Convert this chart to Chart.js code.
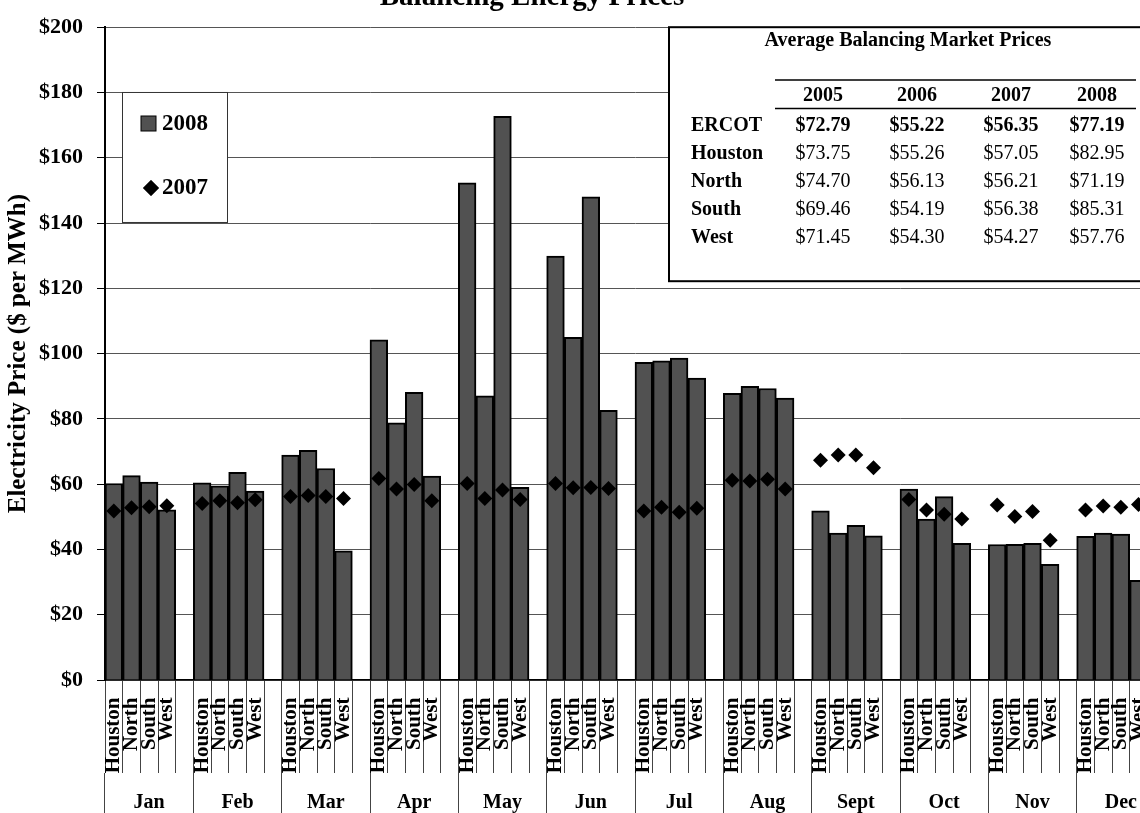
<!DOCTYPE html>
<html>
<head>
<meta charset="utf-8">
<title>Balancing Energy Prices</title>
<script src="https://cdn.jsdelivr.net/npm/chart.js@4.4.1/dist/chart.umd.min.js"></script>
<style>
	html, body { margin: 0; padding: 0; background: #fff; overflow: hidden; }
	#price_chart { display: block; }
</style>
</head>
<body>
<canvas id="price_chart" width="1180" height="813"></canvas>
<script>
var months = ['Jan', 'Feb', 'Mar', 'Apr', 'May', 'Jun', 'Jul', 'Aug', 'Sept', 'Oct', 'Nov', 'Dec'];
var regions = ['Houston', 'North', 'South', 'West'];

//2008 monthly prices ($ per MWh)
var houston_2008 = [60.2, 60.4, 68.9, 104.2, 152.3, 129.9, 97.3, 87.8, 51.8, 58.5, 41.5, 44.0];
var north_2008 = [62.6, 59.5, 70.4, 78.8, 87.1, 105.0, 97.8, 90.0, 45.0, 49.3, 41.6, 45.0];
var south_2008 = [60.6, 63.6, 64.8, 88.1, 172.7, 148.0, 98.6, 89.3, 47.4, 56.2, 41.9, 44.7];
var west_2008 = [52.1, 57.9, 39.6, 62.5, 59.0, 82.6, 92.5, 86.4, 44.2, 41.9, 35.4, 30.5];

//2007 monthly prices ($ per MWh)
var houston_2007 = [51.8, 54.1, 56.2, 61.7, 60.2, 60.2, 51.8, 61.2, 67.3, 55.3, 53.6, 52.1];
var north_2007 = [52.8, 54.9, 56.5, 58.5, 55.6, 58.9, 52.9, 61.0, 68.9, 52.1, 50.1, 53.3];
var south_2007 = [53.1, 54.3, 56.2, 59.9, 58.2, 59.0, 51.4, 61.5, 68.9, 50.8, 51.6, 52.9];
var west_2007 = [53.4, 55.2, 55.6, 54.9, 55.3, 58.7, 52.6, 58.5, 65.0, 49.3, 42.8, 53.8];

var y_ticks = [0, 20, 40, 60, 80, 100, 120, 140, 160, 180, 200];

//Average balancing market prices table
var table_title = 'Average Balancing Market Prices';
var table_years = ['2005', '2006', '2007', '2008'];
var table_rows = ['ERCOT', 'Houston', 'North', 'South', 'West'];
var ercot_avg = [72.79, 55.22, 56.35, 77.19];
var houston_avg = [73.75, 55.26, 57.05, 82.95];
var north_avg = [74.70, 56.13, 56.21, 71.19];
var south_avg = [69.46, 54.19, 56.38, 85.31];
var west_avg = [71.45, 54.30, 54.27, 57.76];

var serif_font = '"Liberation Serif", "Times New Roman", serif';
var bar_fill = '#515151';

//one slot per region and an empty slot after each month
function build_slots(series_list)
{
	var out = [];
	for (var m = 0; m < months.length; m++)
	{
		for (var r = 0; r < series_list.length; r++)
			out.push(series_list[r][m]);
		out.push(null);
	}
	return out;
}

var slot_labels = [];
for (var m = 0; m < months.length; m++)
{
	for (var r = 0; r < regions.length; r++)
		slot_labels.push(regions[r]);
	slot_labels.push('');
}

var data_2008 = build_slots([houston_2008, north_2008, south_2008, west_2008]);
var data_2007 = build_slots([houston_2007, north_2007, south_2007, west_2007]);

//Legend box + table + clipped title
var extras_plugin = {
	id: 'extras',
	afterDraw: function(chart)
	{
		var ctx = chart.ctx;
		ctx.save();

		//title (cut off at the top of the picture)
		ctx.fillStyle = '#000';
		ctx.font = 'bold 29px ' + serif_font;
		ctx.textAlign = 'center';
		ctx.textBaseline = 'alphabetic';
		ctx.fillText('Balancing Energy Prices', 532, 5);

		//legend
		var y_scale = chart.scales.y;
		var lx = 122.5, ly = y_scale.getPixelForValue(180), lw = 105, lh = 130;
		ctx.fillStyle = '#fff';
		ctx.fillRect(lx, ly, lw, lh);
		ctx.strokeStyle = '#333';
		ctx.lineWidth = 1;
		ctx.strokeRect(lx, ly, lw, lh);

		var ds_bar = chart.data.datasets[1];
		var ds_pt = chart.data.datasets[0];
		ctx.fillStyle = ds_bar.backgroundColor;
		ctx.fillRect(141, 116, 15, 15);
		ctx.strokeStyle = '#000';
		ctx.lineWidth = 1;
		ctx.strokeRect(141, 116, 15, 15);
		Chart.helpers.drawPoint(ctx, { pointStyle: 'rectRot', radius: 8, borderWidth: 0 }, 151, 188);
		ctx.fillStyle = '#000';
		ctx.fill();

		ctx.font = 'bold 23px ' + serif_font;
		ctx.textAlign = 'left';
		ctx.textBaseline = 'middle';
		ctx.fillText(ds_bar.label, 162, 124);
		ctx.fillText(ds_pt.label, 162, 188);

		//table
		var tx = 669, ty = y_scale.getPixelForValue(200), tw = 520, th = 254;
		ctx.fillStyle = '#fff';
		ctx.fillRect(tx, ty, tw, th);
		ctx.strokeStyle = '#000';
		ctx.lineWidth = 2;
		ctx.strokeRect(tx, ty, tw, th);

		ctx.fillStyle = '#000';
		ctx.textAlign = 'center';
		ctx.font = 'bold 20px ' + serif_font;
		ctx.fillText(table_title, 908, 41);

		ctx.lineWidth = 1.5;
		ctx.beginPath();
		ctx.moveTo(775, 80); ctx.lineTo(1136, 80);
		ctx.moveTo(775, 108.5); ctx.lineTo(1136, 108.5);
		ctx.stroke();

		var col_x = [823, 917, 1011, 1097];
		for (var c = 0; c < table_years.length; c++)
			ctx.fillText(table_years[c], col_x[c], 96);

		var row_vals = [ercot_avg, houston_avg, north_avg, south_avg, west_avg];
		for (var r = 0; r < table_rows.length; r++)
		{
			var row_y = 126 + r * 28;
			ctx.textAlign = 'left';
			ctx.font = 'bold 20px ' + serif_font;
			ctx.fillText(table_rows[r], 691, row_y);
			ctx.textAlign = 'center';
			ctx.font = (r == 0 ? 'bold ' : '') + '20px ' + serif_font;
			for (var c = 0; c < row_vals[r].length; c++)
				ctx.fillText('$' + row_vals[r][c].toFixed(2), col_x[c], row_y);
		}
		ctx.restore();
	}
};

var ctx = document.getElementById('price_chart').getContext('2d');
var price_chart = new Chart(ctx, {
	type: 'bar',
	data: {
		labels: slot_labels,
		datasets: [
			{
				type: 'line',
				label: '2007',
				data: data_2007,
				showLine: false,
				pointStyle: 'rectRot',
				pointRadius: 7.5,
				pointBackgroundColor: '#000',
				pointBorderWidth: 0,
				order: 0
			},
			{
				label: '2008',
				data: data_2008,
				backgroundColor: bar_fill,
				borderColor: '#000',
				borderWidth: 2,
				barPercentage: 1,
				categoryPercentage: 1,
				order: 1
			}
		]
	},
	options: {
		responsive: false,
		animation: false,
		layout: { padding: { top: 22, right: 15, bottom: 0, left: 0 } },
		plugins: {
			legend: { display: false },
			tooltip: { enabled: false }
		},
		scales: {
			x: {
				offset: true,
				grid: { offset: true, drawOnChartArea: false, tickLength: 93, color: '#444', lineWidth: 1 },
				border: { display: true, color: '#000', width: 1.5 },
				ticks: {
					autoSkip: false,
					minRotation: 90,
					maxRotation: 90,
					padding: -75.5,
					color: '#000',
					font: { family: serif_font, weight: 'bold', size: 21 }
				},
				afterFit: function(scale) { scale.height = 93; }
			},
			x2: {
				type: 'category',
				labels: months,
				position: 'bottom',
				weight: 1,
				offset: true,
				grid: { offset: true, drawOnChartArea: false, tickLength: 40, color: '#444', lineWidth: 1 },
				border: { display: false },
				ticks: {
					autoSkip: false,
					maxRotation: 0,
					padding: -22,
					color: '#000',
					font: { family: serif_font, weight: 'bold', size: 20 }
				},
				afterFit: function(scale) { scale.height = 40; }
			},
			y: {
				min: y_ticks[0],
				max: y_ticks[y_ticks.length - 1],
				afterBuildTicks: function(scale) {
					scale.ticks = y_ticks.map(function(v) { return { value: v }; });
				},
				grid: { color: '#555', lineWidth: 1, tickLength: 8, tickColor: '#000' },
				border: { color: '#000', width: 2 },
				ticks: {
					padding: 14,
					color: '#000',
					font: { family: serif_font, weight: 'bold', size: 22 },
					callback: function(v) { return '$' + v; }
				},
				title: {
					display: true,
					text: 'Electricity Price ($ per MWh)',
					color: '#000',
					font: { family: serif_font, weight: 'bold', size: 25 },
					padding: { top: 4, bottom: 0 }
				},
				afterFit: function(scale) { scale.width = 105; }
			}
		}
	},
	plugins: [extras_plugin]
});
</script>
</body>
</html>
